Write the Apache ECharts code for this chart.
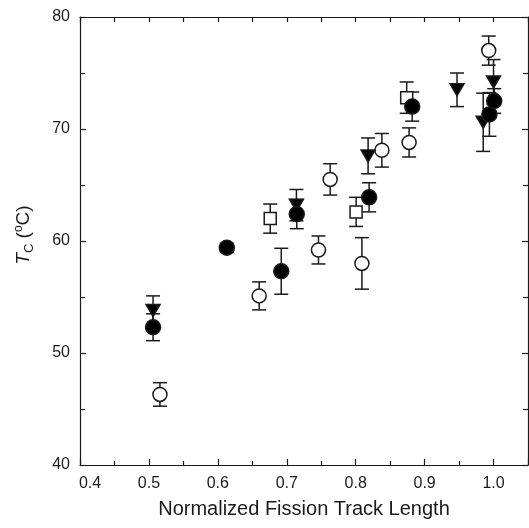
<!DOCTYPE html>
<html>
<head>
<meta charset="utf-8">
<script src="https://cdn.jsdelivr.net/npm/echarts@6/dist/echarts.min.js"></script>
<style>html,body{margin:0;padding:0;background:#fff;}#c{width:529px;height:528px;}</style>
</head>
<body>
<div id="c"></div>
<script>
// Filled circles
const fcX = [0.506, 0.613, 0.692, 0.7145, 0.8195, 0.882, 0.994, 1.001];
const fcY = [52.3, 59.4, 57.3, 62.4, 63.9, 72.0, 71.3, 72.5];
const fcE = [1.2, 0.4, 2.05, 1.3, 1.3, 1.3, 1.95, 1.1];
// Open circles
const ocX = [0.516, 0.660, 0.746, 0.763, 0.809, 0.838, 0.8775, 0.993];
const ocY = [46.3, 55.1, 59.2, 65.5, 58.0, 68.1, 68.8, 77.0];
const ocE = [1.05, 1.25, 1.25, 1.4, 2.3, 1.5, 1.3, 1.3];
// Open squares
const sqX = [0.676, 0.8006, 0.874];
const sqY = [62.0, 62.6, 72.8];
const sqE = [1.3, 1.3, 1.4];
// Filled down-triangles
const trX = [0.506, 0.714, 0.818, 0.947, 0.985, 1.0];
const trY = [53.8, 63.2, 67.6, 73.5, 70.6, 74.2];
const trE = [1.3, 1.4, 1.6, 1.5, 2.6, 2.0];

const xTicks = [0.4, 0.5, 0.6, 0.7, 0.8, 0.9, 1.0];
const yTicks = [40, 50, 60, 70, 80];

const INK = '#1a1a1a';
const FONT = '"Liberation Sans", Arial, sans-serif';

function pts(xs, ys, es) { return xs.map((x, i) => [x, ys[i], es[i]]); }

function errSeries(data) {
  return {
    type: 'custom', z: 1, silent: true,
    data: data,
    renderItem: function (params, api) {
      const x = api.value(0), y = api.value(1), e = api.value(2);
      const t = api.coord([x, y + e]), b = api.coord([x, y - e]);
      const hw = 7;
      const st = { stroke: INK, lineWidth: 1.5 };
      return { type: 'group', children: [
        { type: 'line', shape: { x1: t[0], y1: t[1], x2: b[0], y2: b[1] }, style: st },
        { type: 'line', shape: { x1: t[0] - hw, y1: t[1], x2: t[0] + hw, y2: t[1] }, style: st },
        { type: 'line', shape: { x1: b[0] - hw, y1: b[1], x2: b[0] + hw, y2: b[1] }, style: st }
      ]};
    }
  };
}

function scat(data, symbol, size, fill, rot, z) {
  return {
    type: 'scatter', z: z, data: data.map(d => [d[0], d[1]]),
    symbol: symbol, symbolSize: size, symbolRotate: rot || 0,
    itemStyle: { color: fill, borderColor: INK, borderWidth: 1.5, opacity: 1 },
    emphasis: { disabled: true }
  };
}

const fc = pts(fcX, fcY, fcE), oc = pts(ocX, ocY, ocE), sq = pts(sqX, sqY, sqE), tr = pts(trX, trY, trE);

const chart = echarts.init(document.getElementById('c'), null, { renderer: 'canvas' });
chart.setOption({
  animation: false,
  backgroundColor: '#fff',
  grid: { left: 80, top: 17, right: 1, bottom: 63 },
  xAxis: [{
    type: 'value', min: 0.4, max: 1.05, interval: 0.1,
    position: 'bottom',
    name: 'Normalized Fission Track Length', nameLocation: 'middle', nameGap: 34,
    nameTextStyle: { fontFamily: FONT, fontSize: 20, color: INK },
    axisLine: { show: true, lineStyle: { color: INK, width: 1.2 } },
    axisTick: { show: true, inside: true, length: 6, lineStyle: { color: INK, width: 1.2 } },
    minorTick: { show: true, splitNumber: 2, length: 4, lineStyle: { color: INK, width: 1.2 } },
    axisLabel: { fontFamily: FONT, fontSize: 16, color: INK, margin: 11, showMaxLabel: false,
      rich: { first: { fontFamily: FONT, fontSize: 16, color: INK, padding: [0, 0, 0, 20] } },
      formatter: v => {
        if (Math.abs(v - xTicks[0]) < 1e-6) return '{first|' + xTicks[0].toFixed(1) + '}';
        return xTicks.some(t => Math.abs(t - v) < 1e-6) ? v.toFixed(1) : '';
      } },
    splitLine: { show: false }
  }, {
    type: 'value', min: 0.4, max: 1.05, interval: 0.05, position: 'top',
    axisLine: { show: true, lineStyle: { color: INK, width: 1.2 } },
    axisTick: { show: true, inside: true, length: 5, lineStyle: { color: INK, width: 1.2 } },
    axisLabel: { show: false }, splitLine: { show: false }
  }],
  yAxis: [{
    type: 'value', min: 40, max: 80, interval: 10, position: 'left',
    name: '{i|T}{sub|C} ({sup|o}C)', nameLocation: 'middle', nameGap: 44, nameRotate: 90,
    nameTextStyle: { fontFamily: FONT, fontSize: 19, color: INK, padding: [0, 0, 0, 12],
      rich: {
        i: { fontFamily: FONT, fontSize: 19, fontStyle: 'italic', color: INK },
        sub: { fontFamily: FONT, fontSize: 13, color: INK, padding: [11, 0, 0, 0] },
        sup: { fontFamily: FONT, fontSize: 12, color: INK, padding: [0, 0, 10, 0] }
      } },
    axisLine: { show: true, lineStyle: { color: INK, width: 1.2 } },
    axisTick: { show: true, inside: true, length: 6, lineStyle: { color: INK, width: 1.2 } },
    minorTick: { show: true, splitNumber: 2, length: 5, lineStyle: { color: INK, width: 1.2 } },
    axisLabel: { fontFamily: FONT, fontSize: 16, color: INK, margin: 10,
      formatter: v => (yTicks.indexOf(v) >= 0 ? String(v) : '') },
    splitLine: { show: false }
  }, {
    type: 'value', min: 40, max: 80, interval: 10, position: 'right',
    axisLine: { show: true, lineStyle: { color: INK, width: 1.2 } },
    axisTick: { show: true, inside: true, length: 6, lineStyle: { color: INK, width: 1.2 } },
    minorTick: { show: true, splitNumber: 2, length: 5, lineStyle: { color: INK, width: 1.2 } },
    axisLabel: { show: false }, splitLine: { show: false }
  }],
  series: [
    errSeries(oc), errSeries(sq), errSeries(tr), errSeries(fc),
    scat(oc, 'circle', 14, '#fff', 0, 3),
    scat(sq, 'rect', 12, '#fff', 0, 3),
    scat(tr, 'triangle', [14, 12], '#000', 180, 4),
    scat(fc, 'circle', 15, '#000', 0, 5)
  ]
});
</script>
</body>
</html>
